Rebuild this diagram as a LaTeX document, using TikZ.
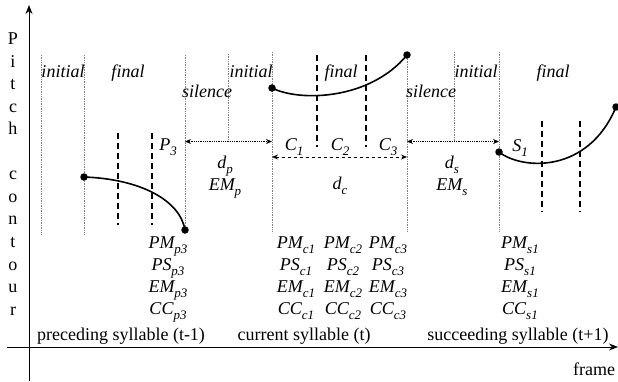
\documentclass[tikz,border=0pt]{standalone}
\usepackage{fontspec}
\setmainfont{Liberation Serif}
\usetikzlibrary{arrows.meta}
\newcommand\sbs[1]{\raisebox{-0.3em}{\fontsize{13}{13}\selectfont\itshape #1}}
\begin{document}
\begin{tikzpicture}[x=1pt,y=-1pt,
  lbl/.style={inner sep=0pt, anchor=base, font=\fontsize{18}{20}\selectfont},
  itl/.style={lbl, font=\fontsize{18}{20}\selectfont\itshape},
  guide/.style={draw=gray, densely dotted, line width=0.7pt},
  seg/.style={line width=1.4pt, dash pattern=on 6pt off 4pt},
  contour/.style={line width=1.6pt},
  dotnode/.style={circle, fill=black, inner sep=0pt, minimum size=7.5pt},
  tip/.tip={Stealth[length=6pt,width=5pt]},
  spandot/.style={densely dotted, line width=0.8pt, tip-tip},
  spandash/.style={dashed, line width=0.8pt, tip-tip},
  axis/.style={line width=0.9pt, -{Stealth[length=9pt,width=7pt]}}
]
\useasboundingbox (0,0) rectangle (618,381);
% axes
\coordinate (yb) at (29,381); \coordinate (yt) at (29,5);
\coordinate (xl) at (7,347); \coordinate (xr) at (618,347);
\draw[axis] (yb) -- (yt);
\draw[axis] (xl) -- (xr);
% Pitch contour
\foreach \ch/\k in {P/0,i/1,t/2,c/3,h/4,c/6,o/7,n/8,t/9,o/10,u/11,r/12}
  \node[lbl] (pc\k) at (13,44.5+22.55*\k) {\ch};
\node[lbl] (frame) at (594,375) {frame};
% guides
\foreach \n/\x/\a/\b in {g1/41/55/235, g2/84/55/235, g3/185/55/227, g4/228/54/141,
  g5/272/52/232, g6/407/52/232, g7/454/52/141, g8/499/52/232}{
  \coordinate (\n t) at (\x,\a); \coordinate (\n b) at (\x,\b);
  \draw[guide] (\n t) -- (\n b);
}
% dashed segment borders
\foreach \n/\x/\a/\b in {d1/118/133/225, d2/152/133/225, d3/317/55/147, d4/366/55/147,
  d5/542/121/212, d6/580/121/212}{
  \coordinate (\n t) at (\x,\a); \coordinate (\n b) at (\x,\b);
  \draw[seg] (\n t) -- (\n b);
}
% contours
\node[dotnode] (pa) at (84,177) {};
\node[dotnode] (pb) at (185,230) {};
\draw[contour] (pa.center) .. controls (140,179) and (180,200) .. (pb.center);
\node[dotnode] (ca) at (272,88) {};
\node[dotnode] (cb) at (407,55) {};
\draw[contour] (ca.center) .. controls (300,102) and (370,100) .. (cb.center);
\node[dotnode] (sa) at (499,152) {};
\node[dotnode] (sb) at (616,107) {};
\draw[contour] (sa.center) .. controls (522,170) and (588,174) .. (sb.center);
% spans
\coordinate (s1l) at (185,141.5); \coordinate (s1r) at (272,141.5);
\draw[spandot] (s1l) -- (s1r);
\coordinate (s2l) at (272,157); \coordinate (s2r) at (407,157);
\draw[spandash] (s2l) -- (s2r);
\coordinate (s3l) at (407,141.5); \coordinate (s3r) at (499,141.5);
\draw[spandot] (s3l) -- (s3r);
% segment labels
\node[itl] (i1) at (63,77) {initial};
\node[itl] (f1) at (128,77) {final};
\node[itl] (sil1) at (207,97) {silence};
\node[itl] (i2) at (251,77) {initial};
\node[itl] (f2) at (341,77) {final};
\node[itl] (sil2) at (431,97) {silence};
\node[itl] (i3) at (476,77) {initial};
\node[itl] (f3) at (553,77) {final};
% point labels
\node[itl] (P3) at (168,150) {P\sbs{3}};
\node[itl] (C1) at (294,150) {C\sbs{1}};
\node[itl] (C2) at (340,150) {C\sbs{2}};
\node[itl] (C3) at (388,150) {C\sbs{3}};
\node[itl] (S1) at (520,151) {S\sbs{1}};
\node[itl] (dp) at (225,168) {d\sbs{p}};
\node[itl] (EMp) at (225,190) {EM\sbs{p}};
\node[itl] (dc) at (340,189) {d\sbs{c}};
\node[itl] (ds) at (452,168) {d\sbs{s}};
\node[itl] (EMs) at (452,190) {EM\sbs{s}};
% feature columns
\foreach \col/\x in {p3/168, c1/296, c2/343, c3/388, s1/520}{
  \node[itl] (PM\col) at (\x,248) {PM\sbs{\col}};
  \node[itl] (PS\col) at (\x,270) {PS\sbs{\col}};
  \node[itl] (EM\col) at (\x,292) {EM\sbs{\col}};
  \node[itl] (CC\col) at (\x,314) {CC\sbs{\col}};
}
% syllable labels
\node[lbl] (prec) at (121,340) {preceding syllable (t-1)};
\node[lbl] (curr) at (304,340) {current syllable (t)};
\node[lbl] (succ) at (518,340) {succeeding syllable (t+1)};
\end{tikzpicture}
\end{document}
